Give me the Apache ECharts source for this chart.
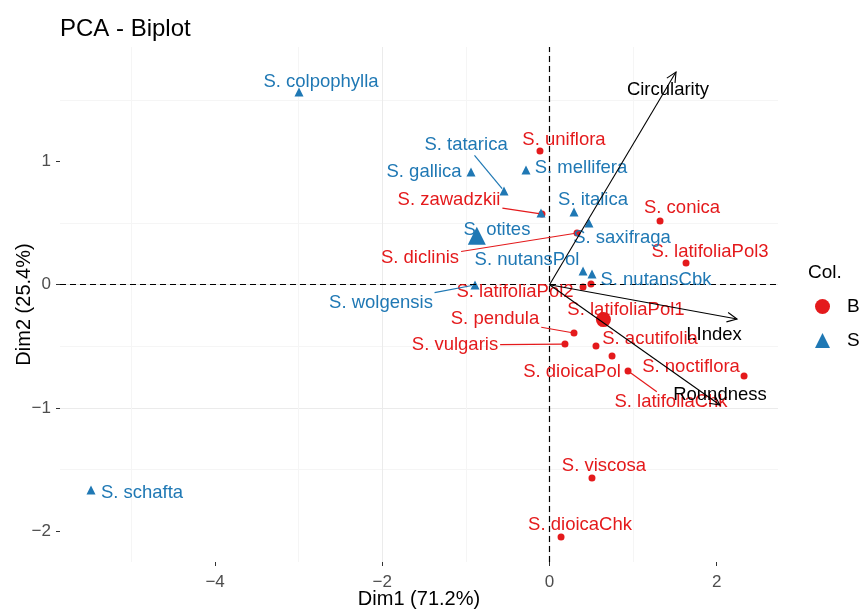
<!DOCTYPE html>
<html><head><meta charset="utf-8">
<script src="https://cdn.jsdelivr.net/npm/echarts@6/dist/echarts.min.js"></script>
<style>html,body{margin:0;padding:0;background:#fff}#c{width:860px;height:610px}</style>
</head><body><div id="c"></div>
<script>
// ---- data ----
const bNames = ['S. uniflora','S. zawadzkii','S. conica','S. diclinis','S. latifoliaPol3','S. latifoliaPol2','S. latifoliaPol1','S. pendula','S. vulgaris','S. dioicaPol','S. acutifolia','S. latifoliaChk','S. noctiflora','S. viscosa','S. dioicaChk'];
const bX = [-0.114,-0.090,1.322,0.329,1.633,0.401,0.496,0.293,0.185,0.556,0.748,0.939,2.327,0.508,0.138];
const bY = [1.084,0.573,0.517,0.419,0.176,-0.019,0.006,-0.392,-0.481,-0.497,-0.578,-0.700,-0.740,-1.568,-2.046];

const sNames = ['S. colpophylla','S. tatarica','S. gallica','S. mellifera','S. italica','S. otites','S. saxifraga','S. nutansPol','S. nutansCbk','S. wolgensis','S. schafta'];
const sX = [-2.996,-0.544,-0.939,-0.281,0.293,-0.102,0.472,0.401,0.508,-0.891,-5.484];
const sY = [1.563,0.760,0.914,0.930,0.590,0.582,0.500,0.111,0.087,-0.002,-1.665];

const varNames = ['Circularity','I.Index','Roundness'];
const varX = [1.513,2.243,2.039];
const varY = [1.725,-0.278,-0.976];

const xTicks = [-4,-2,0,2];
const yTicks = [-2,-1,0,1];

// ---- layout (label offsets in px: dx, dy, draw segment) ----
const labelPos = {
 'S. uniflora':[24,-11],'S. zawadzkii':[-93,-14,1],'S. conica':[22,-13],'S. diclinis':[-157,25,1],
 'S. latifoliaPol3':[24,-11],'S. latifoliaPol2':[-68,5],'S. latifoliaPol1':[35,26],'S. pendula':[-79,-14,1],
 'S. vulgaris':[-110,1,1],'S. dioicaPol':[-24,26],'S. acutifolia':[38,-17],'S. latifoliaChk':[43,31,1],
 'S. noctiflora':[-53,-9],'S. viscosa':[12,-12],'S. dioicaChk':[19,-12],
 'S. colpophylla':[22,-10],'S. tatarica':[-38,-46,1],'S. gallica':[-47,0],'S. mellifera':[55,-2],
 'S. italica':[19,-12],'S. otites':[-44,17],'S. saxifraga':[33,15],'S. nutansPol':[-56,-11],
 'S. nutansCbk':[64,6],'S. wolgensis':[-94,18,1],'S. schafta':[51,3]
};
const varLabelPos = {'Circularity':[-8,18],'I.Index':[-23,16],'Roundness':[0,-10]};

const FONT = '"Liberation Sans", Arial, sans-serif';
const LFS = 18.5;
const RED = '#E41A1C', BLUE = '#1F78B4';

const ctx = document.createElement('canvas').getContext('2d');
ctx.font = LFS + 'px ' + FONT;
const tw = s => ctx.measureText(s).width;

const mean = a => a.reduce((s,v)=>s+v,0)/a.length;
const fmt = v => String(v).replace('-', '\u2212');

function labelSeries(names, xs, ys, color, nm){
  return {
    type:'custom', name:nm, z:5, silent:true,
    data: xs.map((x,i)=>[x, ys[i]]),
    renderItem:(params, api)=>{
      const name = names[params.dataIndex];
      const p = api.coord([api.value(0), api.value(1)]);
      const o = labelPos[name] || [0,-12];
      const c = [p[0]+o[0], p[1]+o[1]];
      const children = [{type:'text', style:{text:name, x:c[0], y:c[1], align:'center', verticalAlign:'middle', font: LFS+'px '+FONT, fill:color}}];
      if (o[2]) {
        const hw = tw(name)/2 + 2, hh = LFS/2 + 1;
        const vx = p[0]-c[0], vy = p[1]-c[1];
        const t = Math.min(Math.abs(vx) > 1e-6 ? hw/Math.abs(vx) : 1e9, Math.abs(vy) > 1e-6 ? hh/Math.abs(vy) : 1e9);
        const e = [c[0]+vx*t, c[1]+vy*t];
        const L = Math.hypot(p[0]-e[0], p[1]-e[1]);
        const k = L > 4 ? (L-3)/L : 1;
        children.push({type:'line', shape:{x1:e[0], y1:e[1], x2:e[0]+(p[0]-e[0])*k, y2:e[1]+(p[1]-e[1])*k}, style:{stroke:color, lineWidth:1.2}});
      }
      return {type:'group', children};
    }
  };
}

const axisCommon = {
  nameMoveOverlap:false,
  axisLine:{show:false, onZero:false},
  splitLine:{show:true, showMinLine:false, showMaxLine:false, lineStyle:{color:'#EBEBEB', width:1}},
  minorTick:{show:false, splitNumber:2},
  minorSplitLine:{show:true, lineStyle:{color:'#F5F5F5', width:1}}
};

const option = {
  animation:false,
  backgroundColor:'#fff',
  textStyle:{fontFamily:FONT},
  title:[
    {text:'PCA - Biplot', left:55, top:12, textStyle:{fontSize:24, fontWeight:'normal', color:'#000', fontFamily:FONT}},
    {text:'Col.', left:803, top:258, textStyle:{fontSize:19, fontWeight:'normal', color:'#000', fontFamily:FONT}}
  ],
  legend:{orient:'vertical', left:810, top:292, itemWidth:15, itemHeight:15, itemGap:15, selectedMode:false,
    textStyle:{fontSize:19, color:'#000', fontFamily:FONT, padding:[0,0,0,12]},
    data:[{name:'B', icon:'circle'},{name:'S', icon:'triangle'}]},
  grid:{left:60, right:82, top:47, bottom:48, outerBoundsMode:'none', containLabel:false},
  xAxis:Object.assign({type:'value', min:-5.855, max:2.733,
    name:'Dim1 (71.2%)', nameLocation:'middle', nameGap:27, nameTextStyle:{fontSize:20, color:'#000', fontFamily:FONT},
    axisTick:{show:true, length:4, customValues:xTicks, lineStyle:{color:'#333'}},
    axisLabel:{customValues:xTicks, formatter:fmt, fontSize:17, color:'#4D4D4D', margin:12, fontFamily:FONT}}, axisCommon),
  yAxis:Object.assign({type:'value', min:-2.249, max:1.928,
    name:'Dim2 (25.4%)', nameLocation:'middle', nameGap:26, nameTextStyle:{fontSize:20, color:'#000', fontFamily:FONT},
    axisTick:{show:true, length:4, customValues:yTicks, lineStyle:{color:'#333'}},
    axisLabel:{customValues:yTicks, formatter:fmt, fontSize:17, color:'#4D4D4D', margin:9, fontFamily:FONT}}, axisCommon),
  series:[
    {type:'scatter', name:'B', symbol:'circle', symbolSize:7, itemStyle:{color:RED, opacity:1}, z:3,
      data: bX.map((x,i)=>[x,bY[i]]),
      markLine:{silent:true, symbol:['none','none'], label:{show:false}, animation:false,
        lineStyle:{color:'#000', type:[6,4], width:1.2, opacity:1},
        data:[{yAxis:0},{xAxis:0}]}},
    {type:'scatter', name:'S', symbol:'triangle', symbolSize:9, itemStyle:{color:BLUE, opacity:1}, z:3,
      data: sX.map((x,i)=>[x,sY[i]])},
    {type:'scatter', name:'meanB', symbol:'circle', symbolSize:15, itemStyle:{color:RED, opacity:1}, z:3,
      data:[[mean(bX), mean(bY)]]},
    {type:'scatter', name:'meanS', symbol:'triangle', symbolSize:18, itemStyle:{color:BLUE, opacity:1}, z:3,
      data:[[mean(sX), mean(sY)]]},
    labelSeries(bNames, bX, bY, RED, 'labB'),
    labelSeries(sNames, sX, sY, BLUE, 'labS'),
    {type:'custom', name:'vars', z:6, silent:true,
      data: varX.map((x,i)=>[x, varY[i]]),
      renderItem:(params, api)=>{
        const name = varNames[params.dataIndex];
        const o = api.coord([0,0]);
        const t = api.coord([api.value(0), api.value(1)]);
        const a = Math.atan2(t[1]-o[1], t[0]-o[0]);
        const hl = 11, ha = Math.PI/7;
        const lp = varLabelPos[name];
        return {type:'group', children:[
          {type:'line', shape:{x1:o[0], y1:o[1], x2:t[0], y2:t[1]}, style:{stroke:'#000', lineWidth:1.1}},
          {type:'polyline', shape:{points:[[t[0]-hl*Math.cos(a-ha), t[1]-hl*Math.sin(a-ha)], t, [t[0]-hl*Math.cos(a+ha), t[1]-hl*Math.sin(a+ha)]]}, style:{stroke:'#000', fill:null, lineWidth:1.1}},
          {type:'text', style:{text:name, x:t[0]+lp[0], y:t[1]+lp[1], align:'center', verticalAlign:'middle', font:LFS+'px '+FONT, fill:'#000'}}
        ]};
      }}
  ]
};
echarts.init(document.getElementById('c')).setOption(option);
</script></body></html>
